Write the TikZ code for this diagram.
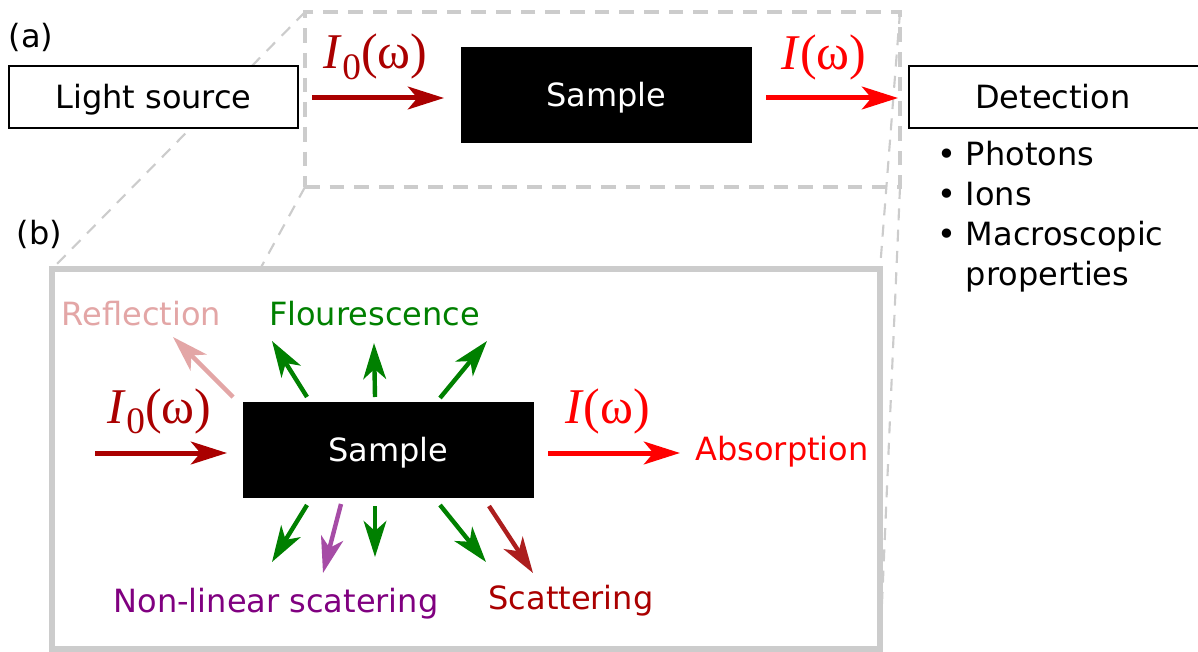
\documentclass[tikz,border=0pt]{standalone}
\usepackage{fontspec}
\setmainfont{DejaVu Sans}
\newfontfamily\lserif{Liberation Serif}
\usetikzlibrary{arrows.meta}
\pgfdeclarelayer{background}
\pgfsetlayers{background,main}
\definecolor{dred}{HTML}{AA0000}
\definecolor{bred}{HTML}{FF0000}
\definecolor{dgreen}{HTML}{008000}
\definecolor{pinkr}{HTML}{E3A6A6}
\definecolor{purpt}{HTML}{800080}
\definecolor{purpa}{HTML}{A64CA6}
\definecolor{scatr}{HTML}{AC1E1E}
\definecolor{lgray}{HTML}{CCCCCC}
\newcommand\IzeroLbl{{\lserif\fontsize{37.5}{40}\selectfont\textit{I}\raisebox{-8pt}{\fontsize{28}{30}\selectfont 0}(ω)}}
\newcommand\IoutLbl{{\lserif\fontsize{37.5}{40}\selectfont\textit{I}(ω)}}
\begin{document}
\begin{tikzpicture}[x=0.75pt,y=-0.75pt,
  txt/.style={font=\fontsize{24}{30}\selectfont, inner sep=0pt},
  framebox/.style={txt, draw=black, line width=1.5pt, fill=white, outer sep=0pt,
    minimum width=216.75pt, minimum height=46.5pt, text height=17.5pt, text depth=0pt},
  samplebox/.style={txt, fill=black, text=white, outer sep=0pt,
    minimum width=218.25pt, minimum height=72pt, text height=17.5pt, text depth=0pt},
  bigarrow/.style={line width=3.75pt, -{Stealth[length=27pt,width=17pt,inset=7pt]}},
  smallarrow/.style={line width=3.3pt, -{Stealth[length=27pt,width=17pt,inset=7.5pt]}},
  zoomline/.style={lgray, line width=1.6pt, dash pattern=on 9pt off 7pt},
]
\useasboundingbox (0,0) rectangle (1198,652);
\clip (0,0) rectangle (1198,652);

% (a) part
\node[txt, anchor=base] (la) at (31,48) {(a)};
\node[draw=lgray, line width=2.6pt, dash pattern=on 11pt off 7.5pt, outer sep=0pt, inner sep=0pt,
  minimum width=446.25pt, minimum height=131.25pt] (zoomA) at (602.5,99.5) {};
\node[framebox] (light) at (153.5,97) {Light source};
\node[samplebox] (sampleA) at (606.5,95) {Sample};
\node[framebox, minimum width=240pt] (detect) at (1069,97) {};
\node[txt, text height=17.5pt, text depth=0pt] (detectT) at (1053,97) {Detection};
\node[txt, anchor=north west] (list) at (937.5,137)
  {\begin{tabular}{@{}l@{\hspace{7pt}}l@{}}•&Photons\\•&Ions\\•&Macroscopic\\&properties\end{tabular}};

\coordinate (a1s) at (312,98);
\coordinate (a1e) at (444,98);
\coordinate (a2s) at (766,98);
\coordinate (a2e) at (898,98);
\draw[bigarrow, dred] (a1s) -- (a1e);
\draw[bigarrow, bred] (a2s) -- (a2e);
\node[txt, anchor=base, dred] (i0a) at (375.5,69) {\IzeroLbl};
\node[txt, anchor=base, bred] (ia) at (824,70) {\IoutLbl};

% (b) part
\node[txt, anchor=base] (lb) at (39.5,244) {(b)};
\node[draw=lgray, fill=white, line width=4.5pt, outer sep=0pt, inner sep=0pt,
  minimum width=621pt, minimum height=285pt] (zoomB) at (466,459) {};

\begin{pgfonlayer}{background}
\draw[zoomline] (zoomA.north west) -- (zoomB.north west);
\draw[zoomline] (zoomA.south west) -- (zoomB.south west);
\draw[zoomline] (zoomA.north east) -- (zoomB.north east);
\draw[zoomline] (zoomA.south east) -- (zoomB.south east);
\end{pgfonlayer}

\node[samplebox] (sampleB) at (388.5,449.5) {Sample};

\coordinate (b1s) at (95,453);
\coordinate (b1e) at (227,453);
\coordinate (b2s) at (548,453);
\coordinate (b2e) at (680,453);
\draw[bigarrow, dred] (b1s) -- (b1e);
\draw[bigarrow, bred] (b2s) -- (b2e);
\node[txt, anchor=base, dred] (i0b) at (159.5,423) {\IzeroLbl};
\node[txt, anchor=base, bred] (ib) at (607.5,423) {\IoutLbl};

\coordinate (rs) at (233,397);  \coordinate (re) at (173,337);
\coordinate (f1s) at (307,397); \coordinate (f1e) at (272,341);
\coordinate (f2s) at (375,397); \coordinate (f2e) at (374,343);
\coordinate (f3s) at (440,398); \coordinate (f3e) at (487,341);
\coordinate (g1s) at (307,505); \coordinate (g1e) at (272,562);
\coordinate (ps)  at (341,504); \coordinate (pe)  at (323,573);
\coordinate (g2s) at (375,506); \coordinate (g2e) at (375,557);
\coordinate (g3s) at (440,505); \coordinate (g3e) at (486,562);
\coordinate (ss)  at (489,506); \coordinate (se)  at (533,573);

\draw[smallarrow, pinkr] (rs) -- (re);
\draw[smallarrow, dgreen] (f1s) -- (f1e);
\draw[smallarrow, dgreen] (f2s) -- (f2e);
\draw[smallarrow, dgreen] (f3s) -- (f3e);
\draw[smallarrow, dgreen] (g1s) -- (g1e);
\draw[smallarrow, purpa] (ps) -- (pe);
\draw[smallarrow, dgreen] (g2s) -- (g2e);
\draw[smallarrow, dgreen] (g3s) -- (g3e);
\draw[smallarrow, scatr] (ss) -- (se);

\node[txt, anchor=base, pinkr] (refl) at (141.5,325) {Reflection};
\node[txt, anchor=base, dgreen] (flou) at (374.5,325) {Flourescence};
\node[txt, anchor=base, bred] (abso) at (782,460) {Absorption};
\node[txt, anchor=base, purpt] (nonl) at (276,612) {Non-linear scatering};
\node[txt, anchor=base, dred] (scat) at (571,609) {Scattering};
\end{tikzpicture}
\end{document}
